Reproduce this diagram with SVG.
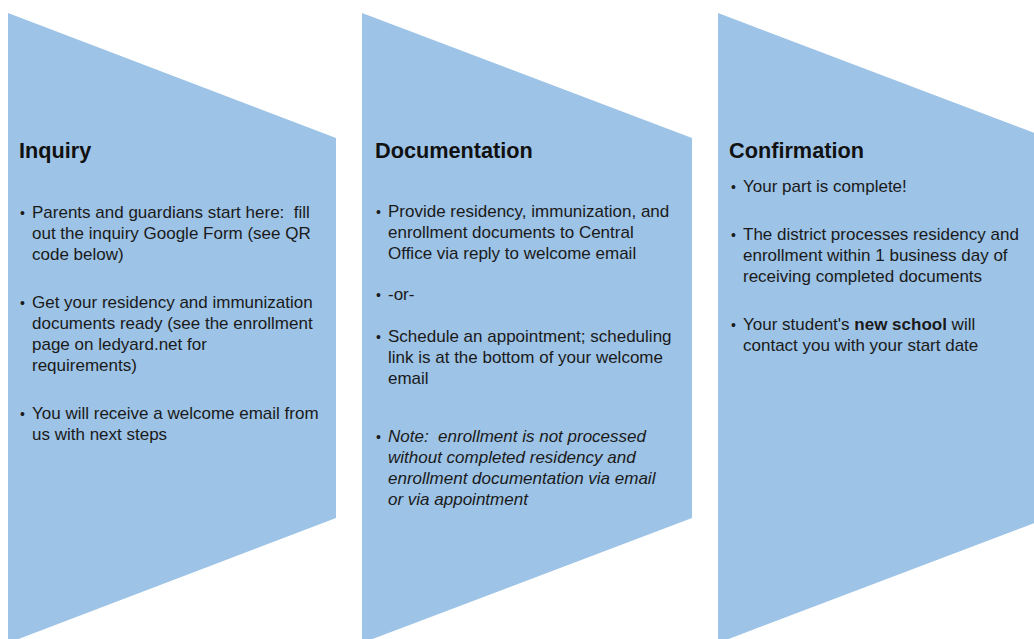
<svg xmlns="http://www.w3.org/2000/svg" width="1034" height="639" viewBox="0 0 1034 639">
<style>
.shape{fill:#9DC3E6;}
.title{font-family:"Liberation Sans",Arial,sans-serif;font-size:21.7px;font-weight:bold;fill:#111;}
.body{font-family:"Liberation Sans",Arial,sans-serif;font-size:17px;fill:#1a1a1a;}
.bul{font-family:"Liberation Sans",Arial,sans-serif;font-size:14px;fill:#1a1a1a;}
.it{font-style:italic;}
</style>
<rect width="1034" height="639" fill="#ffffff"/>
<g id="connectors"></g>
<g id="inquiry">
<polygon class="shape" points="8,13 336,138 336,518 8,643"/>
<text class="title" x="19" y="158">Inquiry</text>
<text class="bul" x="20" y="218">•</text>
<text class="body" x="32" y="218">Parents and guardians start here:&#160; fill</text>
<text class="body" x="32" y="239">out the inquiry Google Form (see QR</text>
<text class="body" x="32" y="260">code below)</text>
<text class="bul" x="20" y="308">•</text>
<text class="body" x="32" y="308">Get your residency and immunization</text>
<text class="body" x="32" y="329">documents ready (see the enrollment</text>
<text class="body" x="32" y="350">page on ledyard.net for</text>
<text class="body" x="32" y="371">requirements)</text>
<text class="bul" x="20" y="419">•</text>
<text class="body" x="32" y="419">You will receive a welcome email from</text>
<text class="body" x="32" y="440">us with next steps</text>
</g>
<g id="documentation">
<polygon class="shape" points="362,13 692,138 692,518 362,643"/>
<text class="title" x="375" y="158">Documentation</text>
<text class="bul" x="376" y="217">•</text>
<text class="body" x="388" y="217">Provide residency, immunization, and</text>
<text class="body" x="388" y="238">enrollment documents to Central</text>
<text class="body" x="388" y="259">Office via reply to welcome email</text>
<text class="bul" x="376" y="300">•</text>
<text class="body" x="388" y="300">-or-</text>
<text class="bul" x="376" y="342">•</text>
<text class="body" x="388" y="342">Schedule an appointment; scheduling</text>
<text class="body" x="388" y="363">link is at the bottom of your welcome</text>
<text class="body" x="388" y="384">email</text>
<text class="bul" x="376" y="442">•</text>
<text class="body it" x="388" y="442">Note:&#160; enrollment is not processed</text>
<text class="body it" x="388" y="463">without completed residency and</text>
<text class="body it" x="388" y="484">enrollment documentation via email</text>
<text class="body it" x="388" y="505">or via appointment</text>
</g>
<g id="confirmation">
<polygon class="shape" points="718,13 1048,138 1048,518 718,643"/>
<text class="title" x="729" y="158">Confirmation</text>
<text class="bul" x="731" y="192">•</text>
<text class="body" x="743" y="192">Your part is complete!</text>
<text class="bul" x="731" y="240">•</text>
<text class="body" x="743" y="240">The district processes residency and</text>
<text class="body" x="743" y="261">enrollment within 1 business day of</text>
<text class="body" x="743" y="282">receiving completed documents</text>
<text class="bul" x="731" y="330">•</text>
<text class="body" x="743" y="330">Your student's <tspan font-weight="bold">new school</tspan> will</text>
<text class="body" x="743" y="351">contact you with your start date</text>
</g>
</svg>
